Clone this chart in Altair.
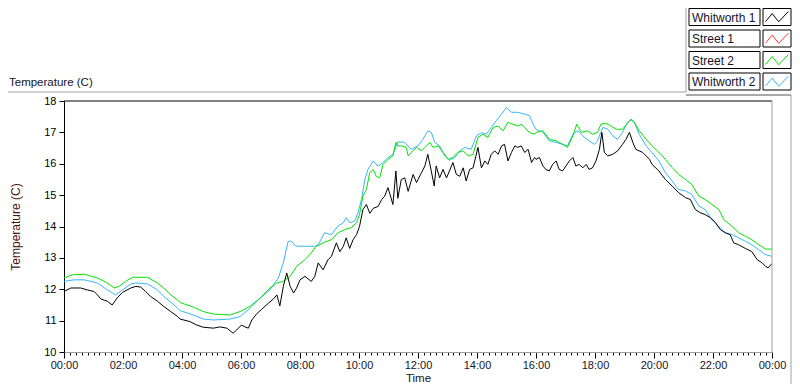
import altair as alt
import pandas as pd

# ---------------- data (minutes since midnight, temperature in C) ----------------
series_names = ["Whitworth 1", "Street 1", "Street 2", "Whitworth 2"]
series_colors = ["#000000", "#ff3a3a", "#00e400", "#38b6ff"]

whit1_minute = [0, 14, 34, 47, 61, 68, 75, 88, 98, 108, 119, 136, 146, 156, 166, 176, 190, 203, 217, 231,
                236, 256, 270, 283, 304, 317, 331, 344, 351, 361, 368, 375, 382, 392, 402, 416, 426, 433, 439, 446,
                453, 460, 467, 473, 480,
                490, 503, 510, 517, 527, 537, 544, 554, 561, 568, 574, 581, 588, 595, 601, 608, 615, 622, 629, 639,
                646, 652, 659, 669, 675, 679, 686, 693, 700, 710, 717,
                720, 727, 734, 740, 747, 753, 757, 764, 771, 778, 784, 791, 798, 805, 812, 818, 825, 832, 842, 849,
                856, 862, 869, 876, 883, 890, 896, 903, 910, 917, 923, 930, 937, 944, 951, 957,
                960, 967, 974, 980, 987, 994, 1001, 1007, 1014, 1021, 1028, 1035, 1041, 1048, 1055, 1062, 1068, 1075,
                1082, 1089, 1094, 1099, 1106, 1116, 1126, 1136, 1143, 1150, 1157, 1163, 1177, 1191,
                1196, 1210, 1223, 1237, 1250, 1264, 1274, 1284, 1294, 1304, 1315, 1325, 1335, 1345, 1355, 1362, 1372,
                1386, 1399, 1410, 1420, 1427, 1432, 1440]
whit1_temp = [11.93, 12.04, 12.04, 11.98, 11.93, 11.82, 11.69, 11.62, 11.50, 11.72, 11.90, 12.04, 12.09, 12.07,
              11.93, 11.77, 11.62, 11.45, 11.29, 11.13,
              11.05, 10.97, 10.86, 10.79, 10.76, 10.80, 10.76, 10.60, 10.70, 10.86, 10.80, 10.76, 11.02, 11.22,
              11.36, 11.56, 11.69, 11.82, 11.47, 12.09, 12.52, 12.09, 11.88, 12.04, 12.30,
              12.41, 12.25, 12.41, 12.84, 12.62, 12.94, 13.05, 13.48, 13.20, 13.36, 13.64, 13.30, 13.58, 13.74,
              14.00, 14.54, 14.70, 14.42, 14.58, 14.64, 14.86, 14.96, 15.24, 14.70, 15.77, 14.90, 15.50, 15.55,
              15.12, 15.66, 15.40,
              15.50, 15.71, 15.93, 16.30, 15.77, 15.29, 15.93, 15.55, 15.82, 15.55, 15.77, 16.04, 15.66, 15.60,
              15.87, 15.45, 15.82, 15.87, 16.52, 15.87, 16.09, 15.98, 16.30, 16.41, 16.30, 16.57, 16.62, 16.09,
              16.36, 16.57, 16.52, 16.57, 16.36, 16.46, 16.04, 16.20,
              16.14, 16.20, 15.93, 15.82, 15.77, 15.98, 16.09, 15.82, 15.77, 15.93, 16.09, 16.20, 15.93, 15.98,
              15.87, 15.98, 15.82, 15.87, 16.09, 16.46, 17.00, 16.36, 16.25, 16.30, 16.41, 16.62, 16.78, 17.00,
              16.68, 16.46, 16.36, 16.14,
              15.98, 15.77, 15.50, 15.29, 15.08, 14.92, 14.86, 14.54, 14.44, 14.38, 14.28, 14.12, 13.90, 13.80,
              13.74, 13.48, 13.42, 13.30, 13.20, 12.94, 12.84, 12.73, 12.68, 12.82]

street1_minute = []
street1_temp = []

street2_minute = [0, 17, 41, 68, 88, 102, 112, 125, 139, 170, 190, 203, 217, 231,
                  236, 263, 283, 304, 338, 358, 378, 399, 419, 433, 446, 460, 473,
                  490, 503, 513, 530, 544, 557, 571, 584, 595, 601, 608, 615, 622, 629, 635, 642, 649, 659, 669,
                  675, 679, 686, 696, 700, 706, 717,
                  727, 734, 744, 751, 761, 771, 781, 791, 801, 812, 822, 832, 842, 852, 862, 873, 883, 893, 903,
                  913, 923, 930, 937, 947, 957,
                  960, 974, 987, 1001, 1014, 1024, 1035, 1043, 1052, 1065, 1075, 1085, 1092, 1102, 1113, 1123,
                  1136, 1146, 1153, 1160, 1170, 1184,
                  1196, 1210, 1223, 1237, 1250, 1264, 1277, 1291, 1304, 1318, 1332, 1342, 1359, 1372, 1386, 1399,
                  1413, 1427, 1440]
street2_temp = [12.36, 12.46, 12.48, 12.36, 12.20, 12.04, 12.09, 12.25, 12.38, 12.38, 12.20, 12.04, 11.82, 11.66,
                11.58, 11.43, 11.29, 11.21, 11.18, 11.29, 11.45, 11.72, 12.04, 12.20, 12.25, 12.41, 12.73,
                12.94, 13.16, 13.37, 13.50, 13.58, 13.80, 13.90, 13.96, 14.12, 14.38, 14.97, 15.18, 15.72, 15.82,
                15.60, 15.55, 15.98, 16.14, 16.25, 16.68, 16.57, 16.57, 16.52, 16.25, 16.36, 16.52,
                16.41, 16.52, 16.68, 16.52, 16.57, 16.36, 16.14, 16.20, 16.36, 16.41, 16.25, 16.30, 16.84, 16.94,
                16.84, 17.16, 17.20, 17.05, 17.32, 17.26, 17.20, 17.26, 17.16, 16.99, 16.94,
                17.00, 17.05, 16.78, 16.73, 16.62, 16.52, 16.89, 17.26, 17.00, 17.05, 16.94, 17.00, 17.26, 17.29,
                17.20, 17.10, 17.10, 17.29, 17.42, 17.32, 17.05, 16.78,
                16.57, 16.36, 16.14, 15.88, 15.66, 15.50, 15.34, 14.97, 14.86, 14.70, 14.54, 14.22, 14.00, 13.80,
                13.69, 13.58, 13.42, 13.28, 13.28]

whit2_minute = [0, 20, 41, 68, 88, 105, 119, 136, 146, 170, 190, 203, 224,
                236, 263, 283, 304, 338, 358, 378, 399, 419, 436, 446, 456, 463, 470,
                476, 510, 517, 530, 544, 557, 568, 574, 581, 591, 598, 605, 612, 618, 629, 639, 649, 659, 669,
                679, 693, 706,
                720, 730, 740, 747, 754, 764, 774, 784, 795, 805, 815, 828, 839, 849, 859, 869, 879, 890, 900,
                910, 923, 937, 947, 954,
                960, 974, 987, 1001, 1014, 1024, 1035, 1045, 1055, 1068, 1079, 1085, 1096, 1106, 1116, 1126, 1136,
                1146, 1153, 1160, 1170, 1184,
                1196, 1210, 1223, 1237, 1250, 1264, 1277, 1291, 1304, 1318, 1332, 1345, 1359, 1372, 1386, 1399,
                1413, 1427, 1440]
whit2_temp = [12.25, 12.30, 12.30, 12.20, 11.98, 11.82, 11.98, 12.17, 12.20, 12.17, 11.98, 11.77, 11.50,
              11.32, 11.18, 11.05, 11.02, 11.05, 11.13, 11.39, 11.72, 11.98, 12.36, 12.84, 13.53, 13.53, 13.39,
              13.37, 13.37, 13.42, 13.80, 13.74, 14.01, 14.12, 14.28, 14.12, 14.17, 14.44, 14.86, 15.50, 15.82,
              16.09, 15.92, 16.04, 16.20, 16.30, 16.70, 16.68, 16.46,
              16.57, 16.78, 17.05, 17.00, 16.68, 16.57, 16.25, 16.11, 16.20, 16.41, 16.52, 16.46, 16.89, 16.99,
              16.94, 17.16, 17.37, 17.58, 17.80, 17.64, 17.64, 17.58, 17.53, 17.26,
              17.10, 17.00, 16.73, 16.68, 16.62, 16.57, 16.94, 17.05, 16.89, 16.73, 16.62, 16.73, 17.16, 17.10,
              16.89, 16.78, 17.00, 17.32, 17.40, 17.32, 16.94, 16.57,
              16.36, 16.09, 15.72, 15.45, 15.18, 15.13, 15.02, 14.65, 14.54, 14.22, 14.00, 13.80, 13.74, 13.64,
              13.53, 13.42, 13.26, 13.10, 13.05]

temp_ticks = [10, 11, 12, 13, 14, 15, 16, 17, 18]
time_ticks = list(range(0, 1441, 12))  # minor ticks every 12 min, labels every 2 h

# ---------------- layout constants ----------------
W, H = 708, 251
FONT = "Liberation Sans"
TXT = "#141428"

x_enc = alt.X(
    "minute:Q",
    scale=alt.Scale(domain=[0, 1440], nice=False, zero=False),
    axis=alt.Axis(
        values=time_ticks,
        tickSize={"condition": {"test": "datum.value % 120 === 0", "value": 6}, "value": 3},
        tickColor="#000000",
        domainColor="#a0a0a0",
        labelExpr="datum.value % 120 === 0 ? ((floor(datum.value/60) % 24 < 10 ? '0' : '') + (floor(datum.value/60) % 24) + ':00') : ''",
        labelOverlap=False,
        labelFlush=False,
        labelPadding=1,
        labelFont=FONT,
        labelFontSize=11,
        labelColor=TXT,
        grid=False,
        title="Time",
        titleFont=FONT,
        titleFontSize=11.5,
        titleFontWeight="normal",
        titleColor=TXT,
        titleX=W / 2,
        titleY=29.5,
        titleBaseline="alphabetic",
    ),
)
y_enc = alt.Y(
    "temp:Q",
    scale=alt.Scale(domain=[10, 18], nice=False, zero=False),
    axis=alt.Axis(
        values=temp_ticks,
        tickSize=5,
        tickColor="#000000",
        domainColor="#000000",
        labelPadding=3,
        labelFont=FONT,
        labelFontSize=11,
        labelColor="#000000",
        grid=False,
        title="Temperature (C)",
        titleFont=FONT,
        titleFontSize=12,
        titleFontWeight="normal",
        titleColor="#4a1414",
        titleAngle=270,
        titleX=-49,
        titleY=H / 2,
        titleAlign="center",
        titleBaseline="middle",
    ),
)


def series_layer(minutes, temps, color):
    df = pd.DataFrame({"minute": minutes, "temp": temps})
    return alt.Chart(df).mark_line(color=color, strokeWidth=1, clip=True).encode(x=x_enc, y=y_enc)


layers = [
    series_layer(whit2_minute, whit2_temp, series_colors[3]),
    series_layer(street2_minute, street2_temp, series_colors[2]),
    series_layer(whit1_minute, whit1_temp, series_colors[0]),
]

one = pd.DataFrame({"k": [0]})


def rule(x, x2, y, y2, color):
    return alt.Chart(one).mark_rule(color=color, strokeWidth=1).encode(
        x=alt.value(x), x2=alt.value(x2), y=alt.value(y), y2=alt.value(y2))


# plot frame (top black, right grey) and outer panel frame
layers += [
    rule(0, W, 0, 0, "#000000"),
    rule(W, W, 0, H, "#a0a0a0"),
    rule(-56, 622, -9, -9, "#a0a0a0"),
    rule(622, 622, -93, -9, "#a0a0a0"),
    rule(622, 727, -6, -6, "#505050"),
    rule(727, 727, -6, 283, "#a0a0a0"),
]

# top-left chart label
layers.append(
    alt.Chart(pd.DataFrame({"t": ["Temperature (C)"]})).mark_text(
        font=FONT, fontSize=11.5, color=TXT, align="left", baseline="alphabetic"
    ).encode(text="t:N", x=alt.value(-55), y=alt.value(-15))
)

# legend: label box + icon box with zigzag
ZIG = "M-1,0.4L-0.42,-0.3L0.15,0.42L1,-0.48"
LEG_TOP0, LEG_STEP, LEG_H = -92.5, 21.5, 17
for i, (name, col) in enumerate(zip(series_names, series_colors)):
    top = LEG_TOP0 + i * LEG_STEP
    d = pd.DataFrame({"name": [name]})
    layers.append(alt.Chart(d).mark_rect(fill="#ffffff", stroke="#000000", strokeWidth=1).encode(
        x=alt.value(625), x2=alt.value(696), y=alt.value(top), y2=alt.value(top + LEG_H)))
    layers.append(alt.Chart(d).mark_rect(fill="#ffffff", stroke="#000000", strokeWidth=1).encode(
        x=alt.value(699), x2=alt.value(727), y=alt.value(top), y2=alt.value(top + LEG_H)))
    layers.append(alt.Chart(d).mark_text(
        font=FONT, fontSize=12, color=TXT, align="left", baseline="alphabetic").encode(
        text="name:N", x=alt.value(628), y=alt.value(top + 13)))
    layers.append(alt.Chart(d).mark_point(
        shape=ZIG, size=520, filled=False, color=col, strokeWidth=1, opacity=1).encode(
        x=alt.value(713), y=alt.value(top + LEG_H / 2)))

chart = alt.layer(*layers).properties(
    width=W,
    height=H,
    autosize=alt.AutoSizeParams(type="none"),
    padding={"left": 56, "top": 93, "right": 20, "bottom": 32},
    background="#ffffff",
).configure_view(stroke=None)

chart.save("out.html", embed_options={"renderer": "svg", "actions": False})
